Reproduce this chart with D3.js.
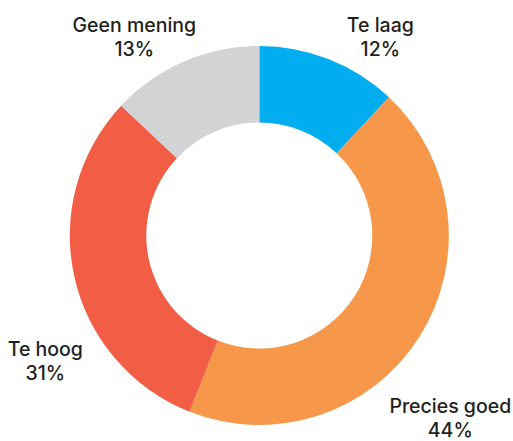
<!DOCTYPE html>
<html>
<head>
<meta charset="utf-8">
<script src="https://cdn.jsdelivr.net/npm/d3@7"></script>
<style>
  body { margin: 0; background: #fff; }
  text { font-family: Inter, "Noto Sans", sans-serif; font-size: 19.5px; font-weight: 500; fill: #231f20; }
</style>
</head>
<body>
<div id="chart"></div>
<script>
// Answer categories and shares (%)
const categories = ['Te laag', 'Precies goed', 'Te hoog', 'Geen mening'];
const shares = [12, 44, 31, 13];
const colors = ['#00aeef', '#f7974a', '#f15d45', '#d1d3d4'];

const width = 513, height = 441;
const center = {x: 259.3, y: 235.5};
const outerRadius = 189.5, innerRadius = 113;

// label anchors relative to the centre (first line baseline)
const labelOffsets = [
  {dx: 121, dy: -204},
  {dx: 191, dy: 177},
  {dx: -214, dy: 120},
  {dx: -125, dy: -204}
];

const svg = d3.select('#chart').append('svg')
    .attr('width', width)
    .attr('height', height);

const chart = svg.append('g')
    .attr('transform', `translate(${center.x},${center.y})`);

const data = categories.map((c, i) => ({name: c, value: shares[i], color: colors[i], off: labelOffsets[i]}));

const pie = d3.pie().value(d => d.value).sort(null);
const arc = d3.arc().innerRadius(innerRadius).outerRadius(outerRadius);

chart.selectAll('.slice')
    .data(pie(data))
  .join('path')
    .attr('class', 'slice')
    .attr('d', arc)
    .attr('fill', d => d.data.color);

const labels = chart.selectAll('.label')
    .data(data)
  .join('text')
    .attr('class', 'label')
    .attr('text-anchor', 'middle')
    .attr('transform', d => `translate(${d.off.dx},${d.off.dy})`);

labels.append('tspan')
    .attr('x', 0)
    .text(d => d.name);

labels.append('tspan')
    .attr('x', 0)
    .attr('dy', 24.5)
    .text(d => `${d.value}%`);
</script>
</body>
</html>
